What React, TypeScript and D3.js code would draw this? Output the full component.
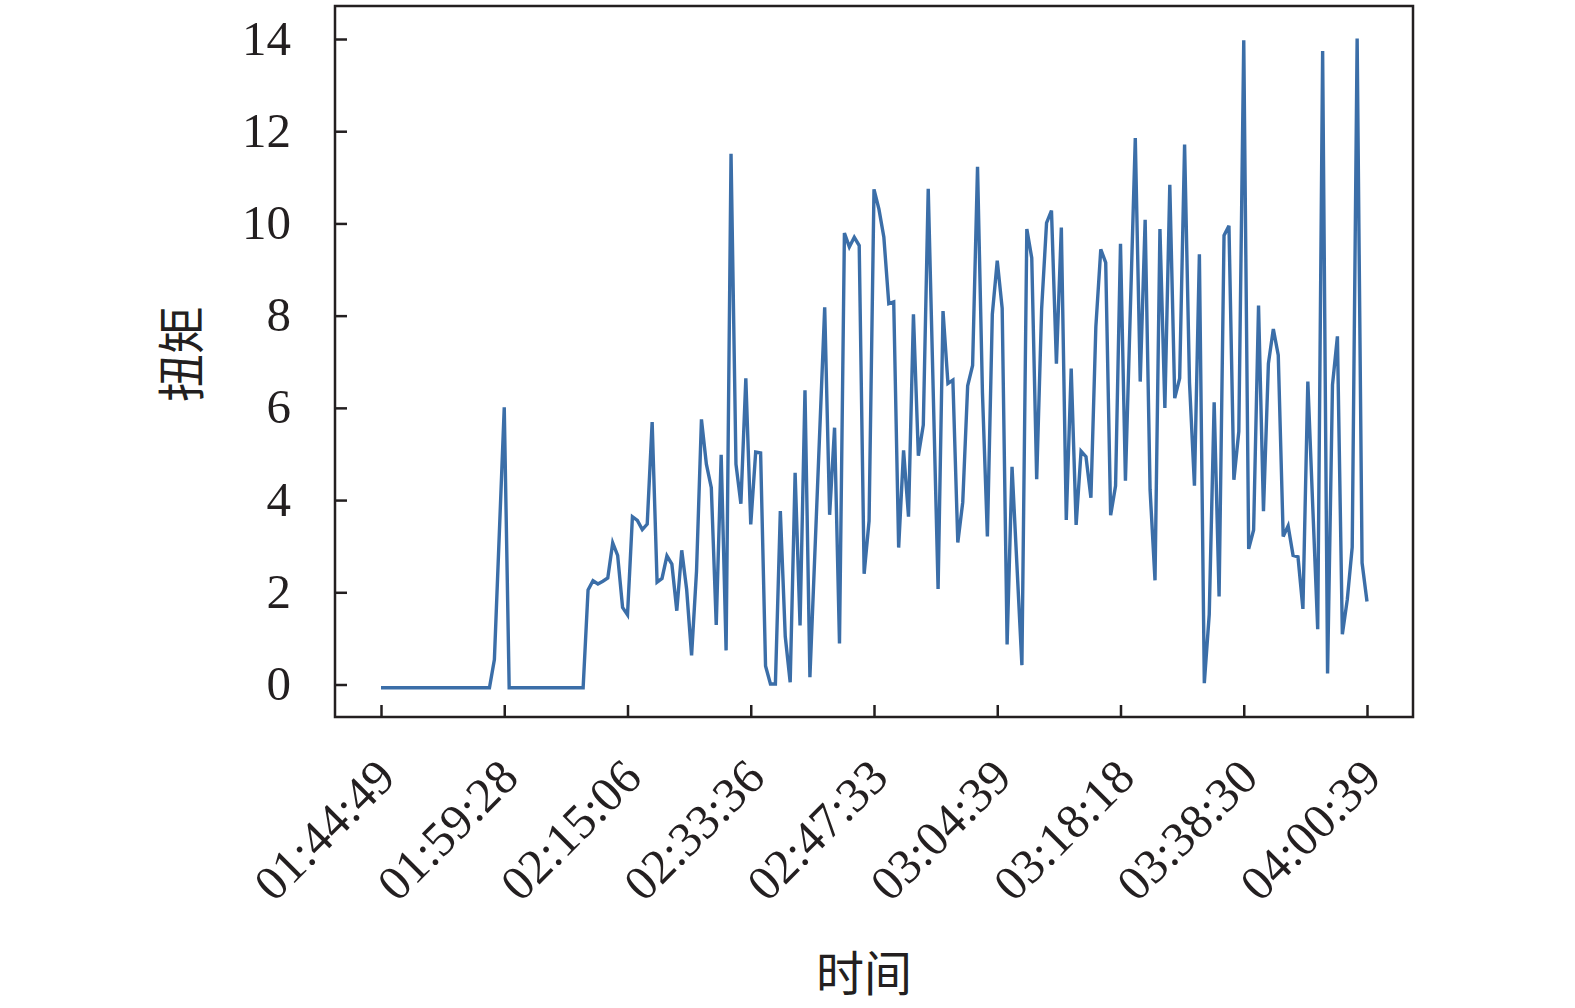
import React, { useEffect, useRef } from "react";
import * as d3 from "d3";

// x axis: sample number, a time label every 25 samples
const timeLabels = [
	"01:44:49",
	"01:59:28",
	"02:15:06",
	"02:33:36",
	"02:47:33",
	"03:04:39",
	"03:18:18",
	"03:38:30",
	"04:00:39",
];
const tickSamples = [0, 25, 50, 75, 100, 125, 150, 175, 200];
const yTicks = [0, 2, 4, 6, 8, 10, 12, 14];

// line vertices (sample number, torque)
const sampleIndex = [
	0, 22, 23, 25, 26, 41, 42, 43, 44, 45, 46, 47, 48, 49, 50, 51, 52, 53, 54,
	55, 56, 57, 58, 59, 60, 61, 62, 63, 64, 65, 66, 67, 68, 69, 70, 71, 72, 73,
	74, 75, 76, 77, 78, 79, 80, 81, 82, 83, 84, 85, 86, 87, 90, 91, 92, 93, 94,
	95, 96, 97, 98, 99, 100, 101, 102, 103, 104, 105, 106, 107, 108, 109, 110,
	111, 113, 114, 115, 116, 117, 118, 119, 120, 121, 122, 123, 124, 125, 126,
	127, 128, 130, 131, 132, 133, 134, 135, 136, 137, 138, 139, 140, 141, 142,
	143, 144, 145, 146, 147, 148, 149, 150, 151, 153, 154, 155, 156, 157, 158,
	159, 160, 161, 162, 163, 164, 165, 166, 167, 168, 169, 170, 171, 172, 173,
	174, 175, 176, 177, 178, 179, 180, 181, 182, 183, 184, 185, 186, 187, 188,
	189, 190, 191, 192, 193, 194, 195, 196, 197, 198, 199, 200,
];
const torque = [
	-0.07, -0.07, 0.54, 6.01, -0.07, -0.07, 2.05, 2.25, 2.18, 2.24, 2.31, 3.07,
	2.8, 1.67, 1.51, 3.64, 3.56, 3.36, 3.48, 5.69, 2.22, 2.3, 2.79, 2.61, 1.6,
	2.91, 2.06, 0.63, 2.46, 5.75, 4.78, 4.27, 1.29, 4.98, 0.74, 11.51, 4.78,
	3.92, 6.64, 3.47, 5.04, 5.02, 0.4, 0.01, 0.01, 3.76, 1.04, 0.05, 4.59, 1.28,
	6.38, 0.16, 8.18, 3.68, 5.57, 0.89, 9.79, 9.49, 9.7, 9.52, 2.4, 3.55, 10.74,
	10.31, 9.7, 8.26, 8.3, 2.97, 5.08, 3.64, 8.03, 4.96, 5.63, 10.75, 2.07, 8.1,
	6.53, 6.6, 3.08, 3.95, 6.48, 6.92, 11.23, 6.32, 3.21, 8.03, 9.19, 8.16, 0.87,
	4.72, 0.42, 9.88, 9.25, 4.45, 8.14, 10.01, 10.28, 6.96, 9.91, 3.57, 6.85,
	3.46, 5.06, 4.94, 4.05, 7.76, 9.44, 9.15, 3.67, 4.31, 9.56, 4.42, 11.85,
	6.57, 10.08, 4.22, 2.26, 9.88, 6.0, 10.84, 6.21, 6.64, 11.71, 6.54, 4.31,
	9.33, 0.03, 1.52, 6.12, 1.91, 9.74, 9.95, 4.44, 5.49, 13.97, 2.94, 3.35,
	8.22, 3.76, 6.96, 7.71, 7.14, 3.21, 3.44, 2.8, 2.77, 1.64, 6.57, 3.85, 1.2,
	13.74, 0.24, 6.5, 7.55, 1.09, 1.84, 2.98, 14.01, 2.64, 1.8,
];

const WIDTH = 1575;
const HEIGHT = 1008;
const serif = "'Liberation Serif', 'Times New Roman', serif";
const cjk = "'Noto Sans CJK SC', sans-serif";

const TorqueChart: React.FC = () => {
	const svgRef = useRef<SVGSVGElement | null>(null);

	useEffect(() => {
		const svg = d3.select(svgRef.current);
		svg.selectAll("*").remove();

		const frame = { left: 335, top: 6, right: 1413, bottom: 717 };

		const x = d3.scaleLinear().domain([0, 200]).range([381, 1367]);
		const y = d3.scaleLinear().domain([0, 14]).range([684.5, 39]);

		const points = sampleIndex.map((s, i) => [s, torque[i]] as [number, number]);

		const line = d3
			.line<[number, number]>()
			.x((d) => x(d[0]))
			.y((d) => y(d[1]));

		svg.append("path")
			.datum(points)
			.attr("d", line)
			.attr("fill", "none")
			.attr("stroke", "#3b6ea8")
			.attr("stroke-width", 3.4)
			.attr("stroke-linejoin", "miter")
			.attr("stroke-miterlimit", 4);

		svg.append("rect")
			.attr("x", frame.left)
			.attr("y", frame.top)
			.attr("width", frame.right - frame.left)
			.attr("height", frame.bottom - frame.top)
			.attr("fill", "none")
			.attr("stroke", "#231f20")
			.attr("stroke-width", 2.5);

		const yAxis = svg
			.append("g")
			.attr("transform", `translate(${frame.left},0)`)
			.call(d3.axisLeft(y).tickValues(yTicks).tickSize(-12).tickPadding(44));
		yAxis.select(".domain").remove();
		yAxis.selectAll("line").attr("stroke", "#231f20").attr("stroke-width", 2.5);
		yAxis.selectAll("text")
			.attr("dy", null)
			.attr("y", 15)
			.attr("fill", "#231f20")
			.attr("font-family", serif)
			.attr("font-size", 49);

		const xAxis = svg
			.append("g")
			.attr("transform", `translate(0,${frame.bottom})`)
			.call(
				d3
					.axisBottom(x)
					.tickValues(tickSamples)
					.tickFormat((_, i) => timeLabels[i])
					.tickSize(-12)
			);
		xAxis.select(".domain").remove();
		xAxis.selectAll("line").attr("stroke", "#231f20").attr("stroke-width", 2.5);
		xAxis.selectAll("text")
			.attr("y", null)
			.attr("dy", null)
			.attr("text-anchor", "end")
			.attr("transform", "translate(16,63) rotate(-45)")
			.attr("fill", "#231f20")
			.attr("font-family", serif)
			.attr("font-size", 49);

		svg.append("text")
			.attr("transform", "translate(199,354) rotate(-90)")
			.attr("text-anchor", "middle")
			.attr("fill", "#231f20")
			.attr("font-family", cjk)
			.attr("font-size", 48)
			.text("扭矩");

		svg.append("text")
			.attr("x", 864)
			.attr("y", 991)
			.attr("text-anchor", "middle")
			.attr("fill", "#231f20")
			.attr("font-family", cjk)
			.attr("font-size", 48)
			.text("时间");
	}, []);

	return (
		<svg
			ref={svgRef}
			width={WIDTH}
			height={HEIGHT}
			style={{ position: "absolute", left: 0, top: 0, background: "#fff" }}
		></svg>
	);
};

export default function App() {
	return <TorqueChart />;
}
